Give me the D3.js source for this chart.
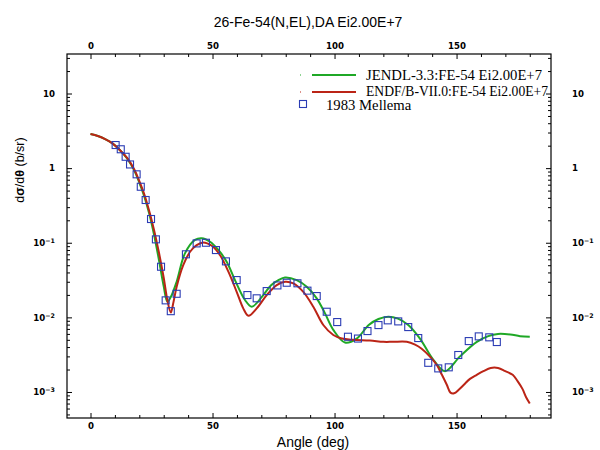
<!DOCTYPE html>
<html>
<head>
<meta charset="utf-8">
<script src="https://cdn.jsdelivr.net/npm/d3@7"></script>
<style>
body { margin: 0; background: #fff; }
</style>
</head>
<body>
<svg id="chart" width="600" height="450"></svg>
<script>

var title = '26-Fe-54(N,EL),DA Ei2.00E+7';
var xLabel = 'Angle (deg)';
var xTicks = [0, 50, 100, 150];
var yDecades = [10, 1, 0.1, 0.01, 0.001];
var yTickLabels = [['10', ''], ['1', ''], ['10', '\u22121'], ['10', '\u22122'], ['10', '\u22123']];
var legendLabels = ['JENDL-3.3:FE-54 Ei2.00E+7', 'ENDF/B-VII.0:FE-54 Ei2.00E+7', '1983 Mellema'];

// JENDL-3.3 curve
var jendlAngle = [0, 3, 6, 9, 12, 15, 18, 20, 22, 24, 26, 28, 30, 31.5, 33, 35.3, 38.7, 42.8, 45.6, 49,
    52.4, 55.8, 59.2, 63.3, 66.1, 70.8, 74, 77, 79.7, 84.5, 88.6, 92.7, 96.1, 99.5, 104.3, 109.1,
    114, 118, 122, 126, 130.2, 135, 140.5, 145.3, 151.4, 158.3, 163, 167, 172, 176, 180];
var jendlXs = [2.86, 2.7, 2.45, 2.15, 1.75, 1.35, 0.92, 0.64, 0.42, 0.25, 0.13, 0.06, 0.026, 0.0162, 0.019, 0.030, 0.072, 0.109, 0.115, 0.103,
    0.080, 0.0556, 0.0316, 0.0171, 0.0139, 0.0199, 0.027, 0.0316, 0.0343, 0.0316, 0.0257, 0.018, 0.0113, 0.0068, 0.0046, 0.0052,
    0.0079, 0.0095, 0.0102, 0.0096, 0.0079, 0.0052, 0.0027, 0.0019, 0.003, 0.0047, 0.0056, 0.006, 0.0059, 0.0056, 0.0055];

// ENDF/B-VII.0 curve
var endfAngle = [0, 3, 6, 9, 12, 15, 18, 20, 22, 24, 26, 28, 30, 31.5, 32.9, 34, 35.3, 38, 40.8, 43.5,
    46.2, 49.7, 53.1, 56.5, 59.9, 62.6, 64.7, 68.1, 72.2, 76.3, 79.7, 83.1, 87.2, 91.3, 95.4, 99.5,
    103, 107.7, 114.5, 120, 124, 129.6, 133, 135.7, 139, 141.9, 144, 146, 147.5, 149, 151, 153,
    155.5, 158.3, 161, 164, 167, 170, 173, 175, 177, 178.5, 180];
var endfXs = [2.86, 2.7, 2.45, 2.15, 1.75, 1.37, 0.95, 0.67, 0.45, 0.27, 0.15, 0.075, 0.034, 0.017, 0.0116, 0.016, 0.0257, 0.050, 0.0757, 0.093,
    0.101, 0.091, 0.068, 0.041, 0.022, 0.0132, 0.0105, 0.0132, 0.0199, 0.0271, 0.030, 0.0286, 0.022, 0.0139, 0.0079, 0.0058,
    0.0052, 0.005, 0.0049, 0.0047, 0.0047, 0.0047, 0.0043, 0.0038, 0.003, 0.0023, 0.0017, 0.00125, 0.00098, 0.00096, 0.00108, 0.00125,
    0.0015, 0.0017, 0.0019, 0.0021, 0.0021, 0.0019, 0.0017, 0.0014, 0.0011, 0.00085, 0.0007];

// 1983 Mellema measurement
var mellemaAngle = [10.3, 12.4, 14.4, 16.2, 18.9, 20.6, 22.6, 24.8, 26.8, 28.9, 30.8, 32.9, 35.3, 39.1, 43.5,
    47.3, 51.4, 55.5, 59.9, 64.3, 68.1, 72.2, 76.6, 80.4, 84.8, 88.9, 92.7, 96.8, 101.1, 105.5,
    109.6, 113.5, 118.0, 121.8, 126.1, 130.2, 134.3, 138.4, 142.5, 146.8, 150.7, 155.0, 159.1, 163.4, 166.5];
var mellemaXs = [2.04, 1.79, 1.42, 1.12, 0.826, 0.563, 0.374, 0.208, 0.111, 0.0477, 0.0169, 0.0121, 0.0207, 0.070, 0.098,
    0.100, 0.0798, 0.0563, 0.0316, 0.0199, 0.0180, 0.0225, 0.0268, 0.0291, 0.0286, 0.0228, 0.0193, 0.0119, 0.00865, 0.00550,
    0.00520, 0.00655, 0.00788, 0.00912, 0.00883, 0.00741, 0.00528, 0.00246, 0.00207, 0.00214, 0.00313, 0.00481, 0.00556, 0.00540, 0.00467];

var green = '#1fa826';
var red = '#bb2416';
var blue = '#2b3cb4';

var svg = d3.select('#chart');
var frame = {left: 67, right: 551, top: 54, bottom: 418};

var x = d3.scaleLinear().domain([-9.63, 188.7]).range([frame.left, frame.right]);
var y = d3.scaleLog().domain([4.48e-4, 33.85]).range([frame.bottom, frame.top]);

var minorX = d3.range(0, 181, 10).filter(function (d) { return d % 50 !== 0; });
var minorY = y.ticks().filter(function (d) {
    return yDecades.indexOf(d) < 0;
});

function tickFont(sel) {
    sel.attr('font-family', 'DejaVu Sans, sans-serif')
        .attr('font-weight', 'bold')
        .attr('font-size', 8.6)
        .attr('fill', '#000');
}

function clean(g) {
    g.select('.domain').remove();
    g.selectAll('line').attr('stroke', '#000');
}

// x axes, bottom and top, ticks pointing in
[[d3.axisBottom, frame.bottom], [d3.axisTop, frame.top]].forEach(function (a) {
    svg.append('g')
        .attr('transform', 'translate(0,' + a[1] + ')')
        .call(a[0](x).tickValues(minorX).tickSize(-3).tickFormat(''))
        .call(clean);
    svg.append('g')
        .attr('transform', 'translate(0,' + a[1] + ')')
        .call(a[0](x).tickValues(xTicks).tickSize(-5).tickPadding(5).tickFormat(d3.format('d')))
        .call(clean)
        .selectAll('text').call(tickFont);
});

// y axes, left and right
[[d3.axisLeft, frame.left, 12, 'end'], [d3.axisRight, frame.right, 21, 'start']].forEach(function (a) {
    svg.append('g')
        .attr('transform', 'translate(' + a[1] + ',0)')
        .call(a[0](y).tickValues(minorY).tickSize(-3).tickFormat(''))
        .call(clean);
    var g = svg.append('g')
        .attr('transform', 'translate(' + a[1] + ',0)')
        .call(a[0](y).tickValues(yDecades).tickSize(-5).tickPadding(a[2]).tickFormat(''))
        .call(clean);
    g.selectAll('.tick text')
        .call(tickFont)
        .attr('text-anchor', a[3])
        .each(function (d, i) {
            var t = d3.select(this);
            var lab = yTickLabels[i];
            t.append('tspan').text(lab[0]);
            if (lab[1]) {
                t.append('tspan')
                    .attr('dy', -3)
                    .attr('font-size', 6.3)
                    .text(lab[1]);
            }
        });
});

// frame
svg.append('rect')
    .attr('x', frame.left)
    .attr('y', frame.top)
    .attr('width', frame.right - frame.left)
    .attr('height', frame.bottom - frame.top)
    .attr('fill', 'none')
    .attr('stroke', '#000')
    .attr('stroke-width', 1.2);

var line = d3.line()
    .x(function (d) { return x(d[0]); })
    .y(function (d) { return y(d[1]); })
    .curve(d3.curveCatmullRom.alpha(0.5));

svg.append('path')
    .datum(d3.zip(jendlAngle, jendlXs))
    .attr('d', line)
    .attr('fill', 'none')
    .attr('stroke', green)
    .attr('stroke-width', 2);

svg.append('path')
    .datum(d3.zip(endfAngle, endfXs))
    .attr('d', line)
    .attr('fill', 'none')
    .attr('stroke', red)
    .attr('stroke-width', 2);

svg.append('g').selectAll('rect')
    .data(d3.zip(mellemaAngle, mellemaXs))
    .enter()
    .append('rect')
    .attr('x', function (d) { return x(d[0]) - 3.5; })
    .attr('y', function (d) { return y(d[1]) - 3.5; })
    .attr('width', 7)
    .attr('height', 7)
    .attr('fill', 'none')
    .attr('stroke', blue)
    .attr('stroke-width', 1.1);

// titles
svg.append('text')
    .attr('x', 308)
    .attr('y', 27)
    .attr('text-anchor', 'middle')
    .attr('font-family', 'Liberation Sans, Arial, sans-serif')
    .attr('font-size', 14)
    .text(title);

svg.append('text')
    .attr('x', 313)
    .attr('y', 447)
    .attr('text-anchor', 'middle')
    .attr('font-family', 'Liberation Sans, Arial, sans-serif')
    .attr('font-size', 14)
    .text(xLabel);

var yl = svg.append('text')
    .attr('transform', 'translate(24,170) rotate(-90)')
    .attr('text-anchor', 'middle')
    .attr('font-family', 'Liberation Sans, Arial, sans-serif')
    .attr('font-size', 12.5);
yl.append('tspan').text('d');
yl.append('tspan').attr('font-weight', 'bold').text('\u03c3');
yl.append('tspan').text('/d');
yl.append('tspan').attr('font-weight', 'bold').text('\u03b8');
yl.append('tspan').text(' (b/sr)');

// legend
var legend = svg.append('g')
    .attr('font-family', 'Liberation Serif, Times New Roman, serif')
    .attr('font-size', 14.7);

[[green, 75, 80, 176], [red, 92, 96, 182]].forEach(function (r, i) {
    legend.append('rect')
        .attr('x', 300).attr('y', r[1] - 0.5)
        .attr('width', 1).attr('height', 1)
        .attr('fill', r[0]);
    legend.append('line')
        .attr('x1', 312).attr('x2', 356)
        .attr('y1', r[1]).attr('y2', r[1])
        .attr('stroke', r[0])
        .attr('stroke-width', 2);
    legend.append('text')
        .attr('x', 366).attr('y', r[2])
        .attr('textLength', r[3])
        .attr('lengthAdjust', 'spacingAndGlyphs')
        .text(legendLabels[i]);
});

legend.append('rect')
    .attr('x', 299.5).attr('y', 100.5)
    .attr('width', 7).attr('height', 7)
    .attr('fill', 'none')
    .attr('stroke', blue)
    .attr('stroke-width', 1.1);
legend.append('text')
    .attr('x', 326).attr('y', 110)
    .text(legendLabels[2]);

</script>
</body>
</html>
